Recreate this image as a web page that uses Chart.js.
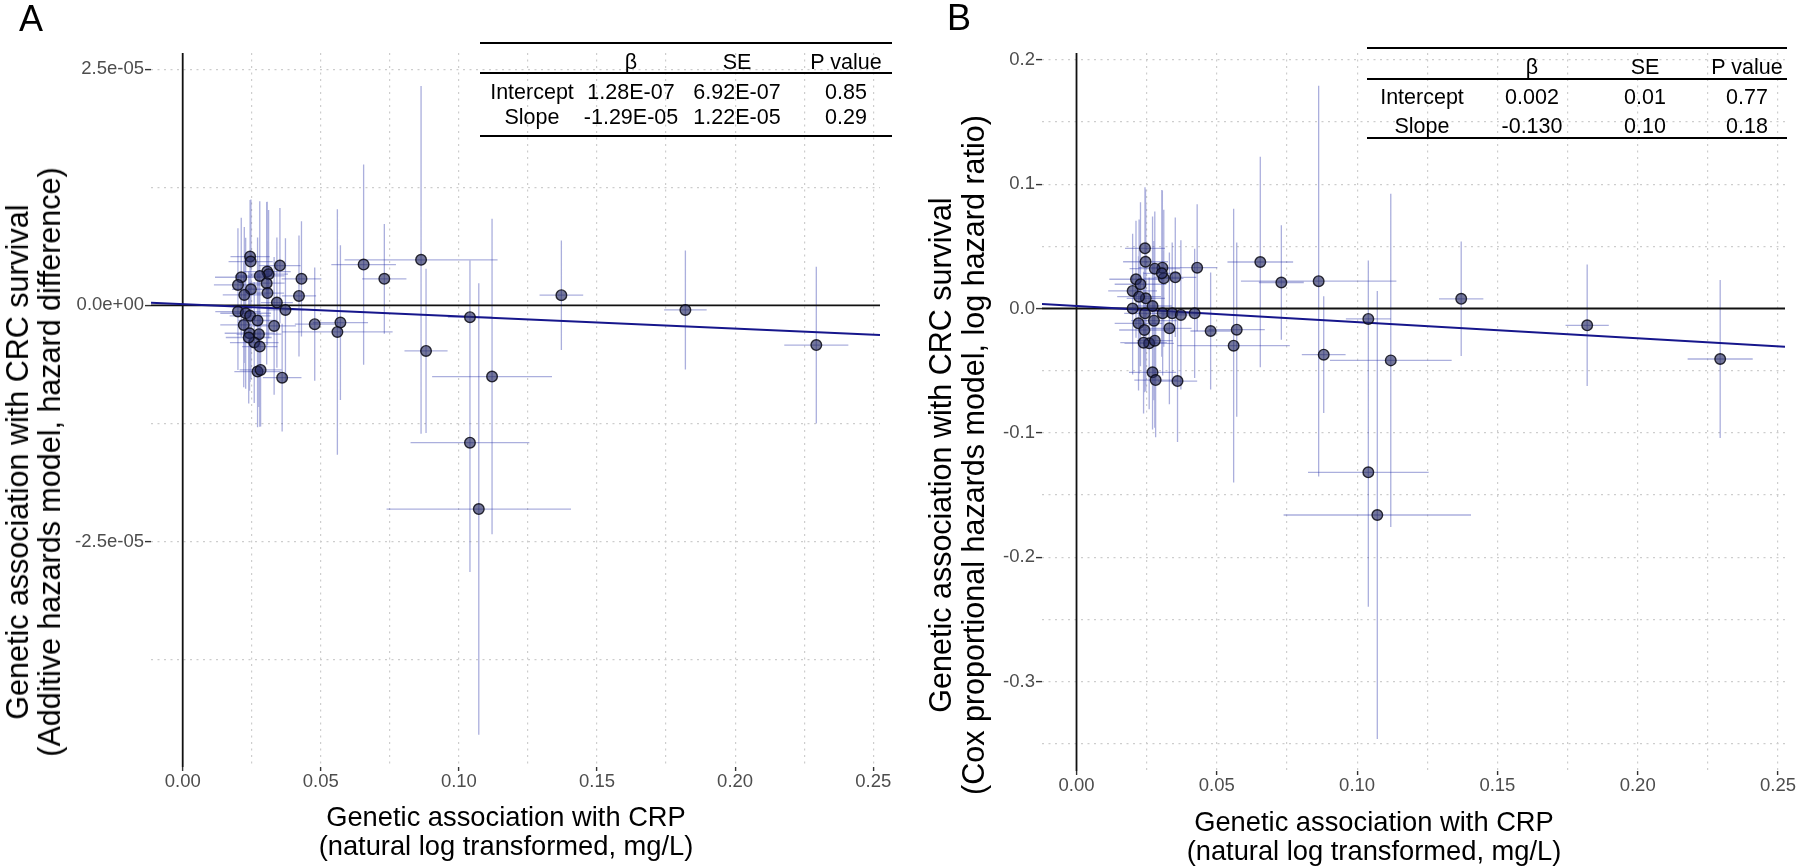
<!DOCTYPE html>
<html>
<head>
<meta charset="utf-8">
<script src="https://cdn.jsdelivr.net/npm/chart.js@4.4.1/dist/chart.umd.min.js"></script>
<style>
  html, body { margin: 0; padding: 0; background: #ffffff; }
  body { width: 1800px; height: 868px; position: relative; overflow: hidden;
         font-family: "Liberation Sans", Arial, Helvetica, sans-serif; color: #000; }
  .panel { position: absolute; top: 0; width: 900px; height: 868px; }
  .panel canvas { position: absolute; left: 0; top: 0; }
  .letter { position: absolute; font-size: 36px; line-height: 36px; }
  .ytitle { position: absolute; white-space: nowrap; font-size: 30.5px; text-align: center;
            transform: translate(-50%, -50%) rotate(-90deg); }
  .xtitle { position: absolute; white-space: nowrap; font-size: 27.3px; line-height: 29px;
            text-align: center; transform: translateX(-50%); }
  .tline { position: absolute; height: 2px; background: #000; }
  .tcell { position: absolute; white-space: nowrap; font-size: 21.5px; line-height: 1;
           transform: translate(-50%, -50%); }
</style>
</head>
<body>
<div class="panel" style="left:0px"><canvas id="chartA" width="900" height="868"></canvas></div>
<div class="panel" style="left:900px"><canvas id="chartB" width="900" height="868"></canvas></div>
<div id="overlay"></div>
<script>
// ---------------- data ----------------
// genetic association with CRP (x) and its error-bar half width
const crpBeta = [0.0244, 0.0246, 0.0352, 0.0306, 0.0311, 0.0279, 0.0212, 0.0430, 0.0304, 0.0200,
                 0.0247, 0.0307, 0.0223, 0.0421, 0.0341, 0.0372, 0.0200, 0.0228, 0.0244, 0.0271,
                 0.0221, 0.0331, 0.0242, 0.0276, 0.0259, 0.0279, 0.0271, 0.0282, 0.0360, 0.0239,
                 0.0478, 0.0571, 0.0560, 0.0655, 0.0730, 0.0863, 0.0881, 0.1040, 0.1040, 0.1072,
                 0.1120, 0.1371, 0.1820, 0.2294];
const crpErr  = [0.0071, 0.0080, 0.0075, 0.0085, 0.0070, 0.0090, 0.0095, 0.0072, 0.0065, 0.0087,
                 0.0068, 0.0060, 0.0078, 0.0062, 0.0058, 0.0066, 0.0082, 0.0092, 0.0074, 0.0069,
                 0.0085, 0.0079, 0.0090, 0.0081, 0.0088, 0.0064, 0.0084, 0.0076, 0.0070, 0.0083,
                 0.0072, 0.0100, 0.0200, 0.0117, 0.0080, 0.0277, 0.0078, 0.0080, 0.0215, 0.0334,
                 0.0217, 0.0079, 0.0077, 0.0116];
// panel A: additive hazards model (hazard difference)
const survA    = [5.17e-6, 4.64e-6, 4.22e-6, 3.58e-6, 3.30e-6, 3.12e-6, 2.98e-6, 2.81e-6, 2.35e-6, 2.17e-6,
                  1.71e-6, 1.30e-6, 1.11e-6, 1.00e-6, 0.30e-6, -0.48e-6, -0.65e-6, -0.83e-6, -1.10e-6, -1.60e-6,
                  -2.07e-6, -2.17e-6, -2.95e-6, -3.05e-6, -3.94e-6, -4.36e-6, -7.01e-6, -6.83e-6, -7.65e-6, -3.40e-6,
                  -1.99e-6, -1.82e-6, -2.81e-6, 4.32e-6, 2.81e-6, 4.82e-6, -4.82e-6, -1.25e-6, -1.453e-5, -2.156e-5,
                  -7.54e-6, 1.08e-6, -0.48e-6, -4.20e-6];
const survAErr = [6.0e-6, 6.5e-6, 6.1e-6, 7.4e-6, 6.8e-6, 7.9e-6, 6.3e-6, 6.1e-6, 8.6e-6, 6.0e-6,
                  9.5e-6, 5.5e-6, 7.2e-6, 6.4e-6, 6.9e-6, 7.6e-6, 6.2e-6, 8.0e-6, 7.0e-6, 8.8e-6,
                  6.6e-6, 7.3e-6, 6.1e-6, 7.7e-6, 6.4e-6, 8.5e-6, 5.9e-6, 6.0e-6, 5.7e-6, 7.0e-6,
                  6.0e-6, 8.2e-6, 1.30e-5, 1.06e-5, 5.8e-6, 1.84e-5, 8.7e-6, 6.0e-6, 1.37e-5, 2.39e-5,
                  1.67e-5, 5.8e-6, 6.3e-6, 8.3e-6];
// panel B: Cox proportional hazards model (log hazard ratio)
const survB    = [0.0484, 0.0376, 0.0251, 0.0328, 0.0243, 0.0320, 0.0235, 0.0328, 0.0283, 0.0141,
                  0.0082, -0.0039, 0.0095, -0.0039, -0.0039, -0.0052, 0.0000, 0.0195, -0.0039, 0.0020,
                  -0.0119, -0.0159, -0.0173, -0.0098, -0.0280, -0.0259, -0.0513, -0.0575, -0.0583, -0.0275,
                  -0.0181, -0.0170, -0.0299, 0.0374, 0.0209, 0.0220, -0.0371, -0.0084, -0.1317, -0.1660,
                  -0.0417, 0.0078, -0.0135, -0.0406];
const survBErr = [0.049, 0.058, 0.048, 0.062, 0.055, 0.046, 0.047, 0.051, 0.067, 0.046,
                  0.075, 0.050, 0.062, 0.052, 0.057, 0.060, 0.053, 0.066, 0.058, 0.072,
                  0.054, 0.061, 0.050, 0.064, 0.053, 0.070, 0.046, 0.046, 0.049, 0.057,
                  0.047, 0.070, 0.110, 0.0846, 0.046, 0.157, 0.047, 0.047, 0.108, 0.180,
                  0.134, 0.046, 0.0488, 0.0635];

// axis ticks
const xTicks      = [0, 0.05, 0.10, 0.15, 0.20, 0.25];
const xTickLabels = ['0.00', '0.05', '0.10', '0.15', '0.20', '0.25'];
const xMinor      = [0.025, 0.075, 0.125, 0.175, 0.225];
const yTicksA      = [-2.5e-5, 0, 2.5e-5];
const yTickLabelsA = ['-2.5e-05', '0.0e+00', '2.5e-05'];
const yMinorA      = [-3.75e-5, -1.25e-5, 1.25e-5];
const yTicksB      = [-0.3, -0.2, -0.1, 0, 0.1, 0.2];
const yTickLabelsB = ['-0.3', '-0.2', '-0.1', '0.0', '0.1', '0.2'];
const yMinorB      = [-0.35, -0.25, -0.15, -0.05, 0.05, 0.15];

// regression estimates (from the inset tables)
const fitA = [1.28e-7, -1.29e-5];   // [intercept, slope]
const fitB = [0.002, -0.130];

// texts
const xTitle  = ['Genetic association with CRP', '(natural log transformed, mg/L)'];
const yTitleA = ['Genetic association with CRC survival', '(Additive hazards model, hazard difference)'];
const yTitleB = ['Genetic association with CRC survival', '(Cox proportional hazards model, log hazard ratio)'];
const tableHeader = ['', 'β', 'SE', 'P value'];
const tableRowsA = [['Intercept', '1.28E-07', '6.92E-07', '0.85'], ['Slope', '-1.29E-05', '1.22E-05', '0.29']];
const tableRowsB = [['Intercept', '0.002', '0.01', '0.77'], ['Slope', '-0.130', '0.10', '0.18']];

// ---------------- layout ----------------
const layoutA = { xMin: -0.01148, xMax: 0.25246, yMin: -4.887e-5, yMax: 2.672e-5,
                  yAxisW: 151, xAxisH: 101, padTop: 53, padRight: 20 };
const layoutB = { xMin: -0.01230, xMax: 0.2525, yMin: -0.3718, yMax: 0.2054,
                  yAxisW: 142, xAxisH: 97, padTop: 53, padRight: 15 };

const FONT = '"Liberation Sans", Arial, Helvetica, sans-serif';
const GRID = '#cdcdcd';

function near(v, list) { return list.findIndex(t => Math.abs(t - v) < 1e-9 * Math.max(1, Math.abs(t)) + 1e-12); }

function buildChart(id, ys, yErr, fit, L, yTicks, yLabels, yMinor) {
  const pts = [], eh = [], ev = [];
  for (let i = 0; i < crpBeta.length; i++) {
    pts.push({ x: crpBeta[i], y: ys[i] });
    eh.push({ x: crpBeta[i] - crpErr[i], y: ys[i] }, { x: crpBeta[i] + crpErr[i], y: ys[i] }, { x: null, y: null });
    ev.push({ x: crpBeta[i], y: ys[i] - yErr[i] }, { x: crpBeta[i], y: ys[i] + yErr[i] }, { x: null, y: null });
  }
  const reg = [{ x: L.xMin, y: fit[0] + fit[1] * L.xMin }, { x: L.xMax, y: fit[0] + fit[1] * L.xMax }];
  const hline = [{ x: L.xMin, y: 0 }, { x: L.xMax, y: 0 }];
  const vline = [{ x: 0, y: L.yMin }, { x: 0, y: L.yMax }];
  const lineDs = (data, color, width) => ({ data, showLine: true, borderColor: color, borderWidth: width,
    pointRadius: 0, pointHoverRadius: 0, spanGaps: false, fill: false });

  const xVals = xTicks.concat(xMinor).sort((a, b) => a - b);
  const yVals = yTicks.concat(yMinor).sort((a, b) => a - b);

  return new Chart(document.getElementById(id), {
    type: 'scatter',
    data: {
      datasets: [
        { data: pts, pointRadius: 5.3, pointHoverRadius: 5.3, pointBackgroundColor: 'rgba(38,42,98,0.64)',
          pointBorderColor: 'rgba(10,10,20,0.85)', pointBorderWidth: 1.4 },
        lineDs(reg, '#16168c', 2),
        lineDs(hline, '#111111', 1.8),
        lineDs(vline, '#111111', 1.8),
        lineDs(ev, 'rgba(45,55,170,0.40)', 1.3),
        lineDs(eh, 'rgba(45,55,170,0.40)', 1.3)
      ]
    },
    options: {
      responsive: false, animation: false, devicePixelRatio: 1,
      layout: { padding: { left: 0, top: L.padTop, right: L.padRight, bottom: 0 } },
      plugins: { legend: { display: false }, tooltip: { enabled: false } },
      events: [],
      scales: {
        x: {
          type: 'linear', min: L.xMin, max: L.xMax,
          afterBuildTicks: ax => { ax.ticks = xVals.map(v => ({ value: v })); },
          afterFit: ax => { ax.height = L.xAxisH; },
          ticks: { autoSkip: false, maxRotation: 0, minRotation: 0, padding: 0, color: '#4d4d4d',
                   font: { family: FONT, size: 18.5 },
                   callback: v => { const k = near(v, xTicks); return k >= 0 ? xTickLabels[k] : ''; } },
          grid: { drawTicks: true, tickLength: 4, tickWidth: 1.4, lineWidth: 1.2,
                  color: c => (c.tick && Math.abs(c.tick.value) < 1e-12) ? 'rgba(0,0,0,0)' : GRID,
                  tickColor: c => (c.tick && near(c.tick.value, xTicks) >= 0) ? '#333333' : 'rgba(0,0,0,0)' },
          border: { display: false, dash: [2, 4.5] },
          title: { display: false }
        },
        y: {
          type: 'linear', min: L.yMin, max: L.yMax,
          afterBuildTicks: ax => { ax.ticks = yVals.map(v => ({ value: v })); },
          afterFit: ax => { ax.width = L.yAxisW; },
          ticks: { autoSkip: false, padding: 1, color: '#4d4d4d', font: { family: FONT, size: 18.5 },
                   callback: v => { const k = near(v, yTicks); return k >= 0 ? yLabels[k] : ''; } },
          grid: { drawTicks: true, tickLength: 6, tickWidth: 1.4, lineWidth: 1.2,
                  color: c => (c.tick && Math.abs(c.tick.value) < 1e-15) ? 'rgba(0,0,0,0)' : GRID,
                  tickColor: c => (c.tick && near(c.tick.value, yTicks) >= 0) ? '#333333' : 'rgba(0,0,0,0)' },
          border: { display: false, dash: [2, 4.5] },
          title: { display: false }
        }
      }
    }
  });
}

buildChart('chartA', survA, survAErr, fitA, layoutA, yTicksA, yTickLabelsA, yMinorA);
buildChart('chartB', survB, survBErr, fitB, layoutB, yTicksB, yTickLabelsB, yMinorB);

// ---------------- text overlays ----------------
const ov = document.getElementById('overlay');
function addDiv(cls, style, html) {
  const d = document.createElement('div');
  d.className = cls; d.setAttribute('style', style); d.innerHTML = html; ov.appendChild(d); return d;
}
function esc(s) { return s.replace(/&/g, '&amp;').replace(/</g, '&lt;'); }

addDiv('letter', 'left:19px;top:1px;', 'A');
addDiv('letter', 'left:947px;top:0px;', 'B');

addDiv('ytitle', 'left:33px;top:462px;line-height:32px;', yTitleA.map(esc).join('<br>'));
addDiv('ytitle', 'left:957px;top:455px;line-height:33px;', yTitleB.map(esc).join('<br>'));
addDiv('xtitle', 'left:506px;top:802px;', xTitle.map(esc).join('<br>'));
addDiv('xtitle', 'left:1374px;top:807px;', xTitle.map(esc).join('<br>'));

function buildTable(lines, left, right, cols, rowsY, rows) {
  lines.forEach(y => addDiv('tline', `left:${left}px;top:${y - 1}px;width:${right - left}px;`, ''));
  [tableHeader].concat(rows).forEach((row, r) => {
    row.forEach((txt, c) => {
      if (txt) addDiv('tcell', `left:${cols[c]}px;top:${rowsY[r]}px;`, esc(txt));
    });
  });
}
buildTable([43.3, 73.3, 136], 480, 892, [532, 631, 737, 846], [63.3, 93.3, 118.3], tableRowsA);
buildTable([48.3, 79.3, 138.3], 1367, 1787, [1422, 1532, 1645, 1747], [68.3, 98.3, 126.7], tableRowsB);
</script>
</body>
</html>
